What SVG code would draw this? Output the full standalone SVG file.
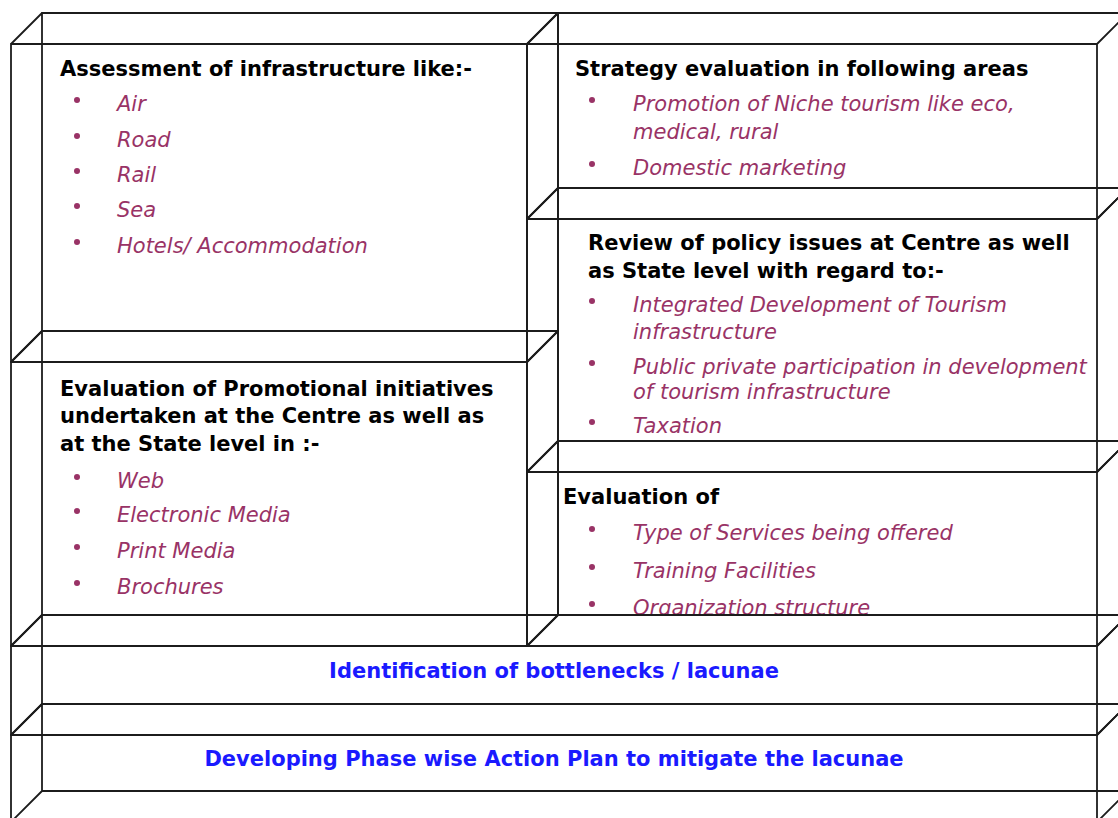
<svg xmlns="http://www.w3.org/2000/svg" width="1118" height="818" viewBox="0 0 1118 818">
  <defs>
    <style>
      .edge { fill: none; stroke: #1c1c1c; stroke-width: 1.8; stroke-linejoin: miter; }
      .hd { font-family: "DejaVu Sans", Verdana, sans-serif; font-size: 21px; font-weight: bold; fill: #000; }
      .it { font-family: "DejaVu Sans", Verdana, sans-serif; font-size: 21px; font-style: italic; fill: #993366; }
      .dot { fill: #993366; }
      .bh { font-family: "DejaVu Sans", Verdana, sans-serif; font-size: 21px; font-weight: bold; fill: #1a1aff; text-anchor: middle; }
    </style>
    <clipPath id="clip-services">
      <rect x="527" y="472" width="570" height="143"/>
    </clipPath>
  </defs>

  <rect width="1118" height="818" fill="#fff"/>

  <!-- Infrastructure assessment -->
  <g id="box-infrastructure">
    <path class="edge" d="M11 44H527V362H11Z M42 13H558V331H42Z M11 44L42 13 M527 44L558 13 M527 362L558 331 M11 362L42 331"/>
    <text class="hd" x="60" y="76">Assessment of infrastructure like:-</text>
    <circle class="dot" cx="77" cy="100" r="3"/>
    <text class="it" x="117" y="111">Air</text>
    <circle class="dot" cx="77" cy="136" r="3"/>
    <text class="it" x="117" y="147">Road</text>
    <circle class="dot" cx="77" cy="171" r="3"/>
    <text class="it" x="117" y="182">Rail</text>
    <circle class="dot" cx="77" cy="206" r="3"/>
    <text class="it" x="117" y="217">Sea</text>
    <circle class="dot" cx="77" cy="242" r="3"/>
    <text class="it" x="117" y="253">Hotels/ Accommodation</text>
  </g>

  <!-- Promotional initiatives -->
  <g id="box-promotion">
    <path class="edge" d="M11 362H527V646H11Z M42 331H558V615H42Z M11 362L42 331 M527 362L558 331 M527 646L558 615 M11 646L42 615"/>
    <text class="hd" x="60" y="396">Evaluation of Promotional initiatives</text>
    <text class="hd" x="60" y="423">undertaken at the Centre as well as</text>
    <text class="hd" x="60" y="451">at the State level in :-</text>
    <circle class="dot" cx="77" cy="477" r="3"/>
    <text class="it" x="117" y="488">Web</text>
    <circle class="dot" cx="77" cy="511" r="3"/>
    <text class="it" x="117" y="522">Electronic Media</text>
    <circle class="dot" cx="77" cy="547" r="3"/>
    <text class="it" x="117" y="558">Print Media</text>
    <circle class="dot" cx="77" cy="583" r="3"/>
    <text class="it" x="117" y="594">Brochures</text>
  </g>

  <!-- Strategy evaluation -->
  <g id="box-strategy">
    <path class="edge" d="M527 44H1097V219H527Z M558 13H1128V188H558Z M527 44L558 13 M1097 44L1128 13 M1097 219L1128 188 M527 219L558 188"/>
    <text class="hd" x="575" y="76">Strategy evaluation in following areas</text>
    <circle class="dot" cx="592" cy="100" r="3"/>
    <text class="it" x="633" y="111">Promotion of Niche tourism like eco,</text>
    <text class="it" x="633" y="139">medical, rural</text>
    <circle class="dot" cx="592" cy="164" r="3"/>
    <text class="it" x="633" y="175">Domestic marketing</text>
  </g>

  <!-- Policy review -->
  <g id="box-policy">
    <path class="edge" d="M527 219H1097V472H527Z M558 188H1128V441H558Z M527 219L558 188 M1097 219L1128 188 M1097 472L1128 441 M527 472L558 441"/>
    <text class="hd" x="588" y="250">Review of policy issues at Centre as well</text>
    <text class="hd" x="588" y="278">as State level with regard to:-</text>
    <circle class="dot" cx="592" cy="301" r="3"/>
    <text class="it" x="633" y="312">Integrated Development of Tourism</text>
    <text class="it" x="633" y="339">infrastructure</text>
    <circle class="dot" cx="592" cy="363" r="3"/>
    <text class="it" x="633" y="374">Public private participation in development</text>
    <text class="it" x="633" y="399">of tourism infrastructure</text>
    <circle class="dot" cx="592" cy="422" r="3"/>
    <text class="it" x="633" y="433">Taxation</text>
  </g>

  <!-- Services evaluation -->
  <g id="box-services">
    <path class="edge" d="M527 472H1097V646H527Z M558 441H1128V615H558Z M527 472L558 441 M1097 472L1128 441 M1097 646L1128 615 M527 646L558 615"/>
    <text class="hd" x="563" y="504">Evaluation of</text>
    <circle class="dot" cx="592" cy="529" r="3"/>
    <text class="it" x="633" y="540">Type of Services being offered</text>
    <circle class="dot" cx="592" cy="567" r="3"/>
    <text class="it" x="633" y="578">Training Facilities</text>
    <circle class="dot" cx="592" cy="604" r="3"/>
    <text class="it" x="633" y="615" clip-path="url(#clip-services)">Organization structure</text>
  </g>

  <!-- Bottlenecks -->
  <g id="box-bottlenecks">
    <path class="edge" d="M11 646H1097V735H11Z M42 615H1128V704H42Z M11 646L42 615 M1097 646L1128 615 M1097 735L1128 704 M11 735L42 704"/>
    <text class="bh" x="554" y="678">Identification of bottlenecks / lacunae</text>
  </g>

  <!-- Action plan -->
  <g id="box-action-plan">
    <path class="edge" d="M11 735H1097V822H11Z M42 704H1128V791H42Z M11 735L42 704 M1097 735L1128 704 M1097 822L1128 791 M11 822L42 791"/>
    <text class="bh" x="554" y="766">Developing Phase wise Action Plan to mitigate the lacunae</text>
  </g>
</svg>
